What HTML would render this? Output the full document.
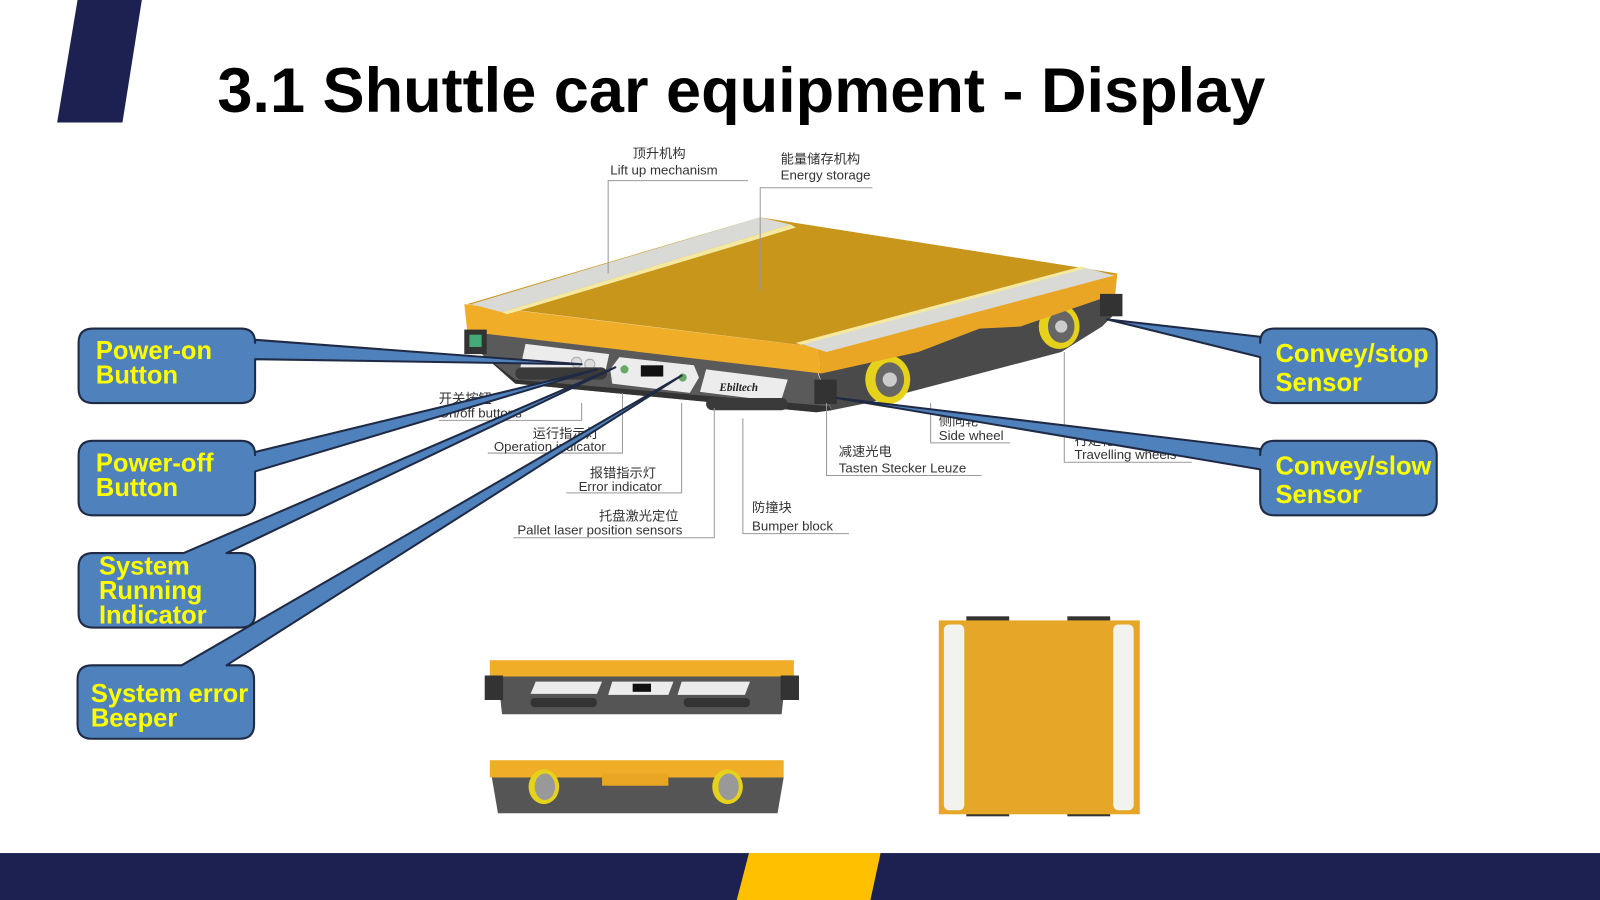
<!DOCTYPE html>
<html><head><meta charset="utf-8"><style>
html,body{margin:0;padding:0;background:#fff;width:1600px;height:900px;overflow:hidden}
svg{display:block}
.t{font-family:"Liberation Sans","Noto Sans CJK SC",sans-serif;font-size:13px;fill:#333}
.c{font-family:"Liberation Sans",sans-serif;font-weight:bold;font-size:25px;fill:#ffff00}
</style></head><body>
<svg width="1600" height="900" viewBox="0 0 1568 882" preserveAspectRatio="none" xmlns="http://www.w3.org/2000/svg">
<!-- header mark -->
<polygon points="76,0 139,0 120,120 56,120" fill="#1c2152"/>
<text x="213" y="110" font-family="Liberation Sans,sans-serif" font-weight="bold" font-size="62" fill="#000" textLength="1027" lengthAdjust="spacingAndGlyphs">3.1 Shuttle car equipment - Display</text>

<!-- main car -->
<g>
<!-- body side -->
<polygon points="800,360 1090,285 1095,305 1080,320 1040,345 850,395 815,402" fill="#4a4a4a"/>
<!-- body front -->
<polygon points="460,322 800,362 815,402 800,404 505,376 470,345" fill="#5a5a5a"/>
<polygon points="470,345 505,376 800,404 815,402 812,398 505,372" fill="#333"/>
<!-- wheels -->
<ellipse cx="870" cy="372" rx="22" ry="24" fill="#e6d21a"/><ellipse cx="872" cy="372" rx="14" ry="17" fill="#666"/><circle cx="872" cy="372" r="7" fill="#ccc"/>
<ellipse cx="1038" cy="320" rx="20" ry="22" fill="#e6d21a"/><ellipse cx="1040" cy="320" rx="13" ry="16" fill="#666"/><circle cx="1040" cy="320" r="6" fill="#ccc"/>
<!-- slab side face -->
<polygon points="800,340 1095,268 1093,288 1000,320 960,322 900,345 805,366" fill="#e9a624"/>
<!-- slab front face -->
<polygon points="455,298 800,340 805,366 458,325" fill="#f0ad28"/>
<!-- top face -->
<polygon points="458,298 745,213 1095,268 800,340" fill="#c9961c"/>
<!-- strips -->
<polygon points="462,298 745,213 775,220 492,306" fill="#d9d9d5"/>
<polygon points="492,306 775,220 780,223 497,308" fill="#f5e9a0"/>
<polygon points="785,337 1062,262 1092,270 810,345" fill="#d9d9d5"/>
<polygon points="780,336 1060,261 1064,263 785,338" fill="#f5e9a0"/>
<!-- front panels -->
<polygon points="515,337 597,347 592,370 510,360" fill="#ececec"/>
<circle cx="565" cy="355" r="5" fill="#ddd" stroke="#aaa"/><circle cx="578" cy="357" r="5" fill="#ddd" stroke="#aaa"/>
<polygon points="607,350 680,358 685,370 676,385 600,376 598,362" fill="#ececec"/>
<rect x="628" y="358" width="22" height="11" fill="#111"/>
<circle cx="612" cy="362" r="4" fill="#6a6"/><circle cx="669" cy="370" r="4" fill="#6a6"/>
<polygon points="692,362 772,372 765,394 686,384" fill="#ececec"/>
<text x="705" y="383" font-family="Liberation Serif,serif" font-style="italic" font-weight="bold" font-size="11" fill="#222">Ebiltech</text>
<rect x="505" y="360" width="90" height="12" rx="6" fill="#3a3a3a"/>
<rect x="692" y="390" width="80" height="12" rx="6" fill="#3a3a3a"/>
<rect x="455" y="323" width="22" height="24" fill="#333"/><rect x="460" y="328" width="12" height="12" fill="#4a7"/>
<rect x="798" y="372" width="22" height="24" fill="#333"/>
<rect x="1078" y="288" width="22" height="22" fill="#333"/>
</g>

<!-- leader lines -->
<g stroke="#999" stroke-width="1" fill="none">
<polyline points="596,268 596,177 733,177"/>
<polyline points="745,285 745,184 855,184"/>
<polyline points="570,395 570,412 430,412"/>
<polyline points="610,385 610,444 478,444"/>
<polyline points="668,395 668,483 555,483"/>
<polyline points="700,400 700,527 503,527"/>
<polyline points="728,410 728,523 832,523"/>
<polyline points="810,395 810,466 962,466"/>
<polyline points="912,395 912,434 990,434"/>
<polyline points="1043,345 1043,453 1168,453"/>
</g>
<g class="t">
<text x="620" y="155">顶升机构</text><text x="598" y="171">Lift up mechanism</text>
<text x="765" y="160">能量储存机构</text><text x="765" y="176">Energy storage</text>
<text x="430" y="395">开关按钮</text><text x="430" y="409">On/off buttons</text>
<text x="522" y="429">运行指示灯</text><text x="484" y="442">Operation indicator</text>
<text x="578" y="468">报错指示灯</text><text x="567" y="481">Error indicator</text>
<text x="587" y="510">托盘激光定位</text><text x="507" y="524">Pallet laser position sensors</text>
<text x="737" y="502">防撞块</text><text x="737" y="520">Bumper block</text>
<text x="822" y="447">减速光电</text><text x="822" y="463">Tasten Stecker Leuze</text>
<text x="920" y="417">侧向轮</text><text x="920" y="431">Side wheel</text>
<text x="1053" y="436">行走轮</text><text x="1053" y="450">Travelling wheels</text>
</g>

<!-- callouts -->
<g fill="#4f81bd" stroke="#1f2a44" stroke-width="2" stroke-linejoin="round">
<path d="M91,322 H236 Q250,322 250,336 V333 L570,357 L250,352 V381 Q250,395 236,395 H91 Q77,395 77,381 V336 Q77,322 91,322 Z"/>
<path d="M91,432 H236 Q250,432 250,446 V443 L585,362 L250,462 V491 Q250,505 236,505 H91 Q77,505 77,491 V446 Q77,432 91,432 Z"/>
<path d="M91,542 H180 L603,360 L222,542 H236 Q250,542 250,556 V601 Q250,615 236,615 H91 Q77,615 77,601 V556 Q77,542 91,542 Z"/>
<path d="M90,652 H178 L668,368 L222,652 H235 Q249,652 249,666 V710 Q249,724 235,724 H90 Q76,724 76,710 V666 Q76,652 90,652 Z"/>
<path d="M1249,322 H1394 Q1408,322 1408,336 V381 Q1408,395 1394,395 H1249 Q1235,395 1235,381 V350 L1085,313 L1235,330 V336 Q1235,322 1249,322 Z"/>
<path d="M1249,432 H1394 Q1408,432 1408,446 V491 Q1408,505 1394,505 H1249 Q1235,505 1235,491 V460 L820,390 L1235,440 V446 Q1235,432 1249,432 Z"/>
</g>
<g class="c">
<text x="94" y="352">Power-on</text><text x="94" y="376">Button</text>
<text x="94" y="462">Power-off</text><text x="94" y="486">Button</text>
<text x="97" y="563">System</text><text x="97" y="587">Running</text><text x="97" y="611">Indicator</text>
<text x="89" y="688">System error</text><text x="89" y="712">Beeper</text>
<text x="1250" y="355">Convey/stop</text><text x="1250" y="383">Sensor</text>
<text x="1250" y="465">Convey/slow</text><text x="1250" y="493">Sensor</text>
</g>

<!-- front view -->
<rect x="480" y="647" width="298" height="16" fill="#f0ad28"/>
<polygon points="488,663 770,663 766,700 492,700" fill="#555"/>
<rect x="475" y="662" width="18" height="24" fill="#333"/><rect x="765" y="662" width="18" height="24" fill="#333"/>
<polygon points="525,668 590,668 585,680 520,680" fill="#ececec"/>
<polygon points="600,668 660,668 655,681 596,681" fill="#ececec"/><rect x="620" y="670" width="18" height="8" fill="#111"/>
<polygon points="668,668 735,668 730,681 664,681" fill="#ececec"/>
<rect x="520" y="684" width="65" height="9" rx="4" fill="#333"/><rect x="670" y="684" width="65" height="9" rx="4" fill="#333"/>
<!-- side view -->
<rect x="480" y="745" width="288" height="17" fill="#f0ad28"/>
<polygon points="482,762 768,762 762,797 488,797" fill="#555"/>
<rect x="590" y="758" width="65" height="12" fill="#e9a624"/>
<ellipse cx="533" cy="771" rx="15" ry="17" fill="#e6d21a"/><ellipse cx="534" cy="771" rx="10" ry="13" fill="#999"/>
<ellipse cx="713" cy="771" rx="15" ry="17" fill="#e6d21a"/><ellipse cx="714" cy="771" rx="10" ry="13" fill="#999"/>
<!-- top view -->
<rect x="947" y="604" width="42" height="5" fill="#333"/><rect x="1046" y="604" width="42" height="5" fill="#333"/>
<rect x="947" y="795" width="42" height="5" fill="#333"/><rect x="1046" y="795" width="42" height="5" fill="#333"/>
<rect x="920" y="608" width="197" height="190" fill="#e6a628"/>
<rect x="925" y="612" width="20" height="182" rx="5" fill="#f2f2ee"/>
<rect x="1091" y="612" width="20" height="182" rx="5" fill="#f2f2ee"/>

<!-- footer -->
<rect x="0" y="836" width="1568" height="46" fill="#1c2152"/>
<polygon points="734,836 863,836 853,882 722,882" fill="#ffc000"/>
</svg>
</body></html>
